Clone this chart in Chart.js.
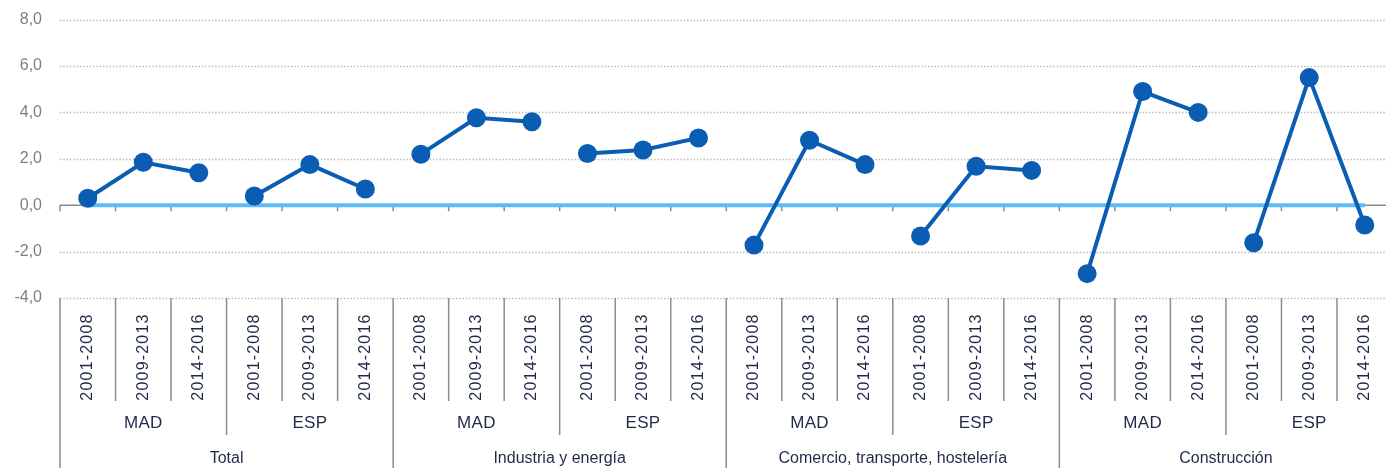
<!DOCTYPE html>
<html>
<head>
<meta charset="utf-8">
<script src="https://cdn.jsdelivr.net/npm/chart.js@4"></script>
<style>
  html, body { margin: 0; padding: 0; background: #fff; overflow: hidden; }
  #wrap { width: 1402px; height: 468px; position: relative; }
</style>
</head>
<body>
<div id="wrap"><canvas id="lineChart"></canvas></div>
<script>
const periods = ['2001-2008', '2009-2013', '2014-2016'];
const regions = ['MAD', 'ESP'];
const sectors = ['Total', 'Industria y energía', 'Comercio, transporte, hostelería', 'Construcción'];

// one value per period, grouped MAD/ESP within each sector
const totalValues      = [0.3, 1.85, 1.4,   0.4, 1.75, 0.7];
const industriaValues  = [2.2, 3.77, 3.6,   2.23, 2.38, 2.9];
const comercioValues   = [-1.72, 2.8, 1.75, -1.33, 1.68, 1.5];
const construccValues  = [-2.95, 4.9, 4.0,  -1.62, 5.5, -0.85];
const zeroLine = [0, 0, 0, 0, 0, 0, 0, 0, 0, 0, 0, 0, 0, 0, 0, 0, 0, 0, 0, 0, 0, 0, 0, 0];

const yTicks = [-4, -2, 0, 2, 4, 6, 8];

const values = [...totalValues, ...industriaValues, ...comercioValues, ...construccValues];
const labels = [];
sectors.forEach(s => regions.forEach(r => periods.forEach(p => labels.push(p))));

const DARK = '#0B5DB3';
const LIGHT = '#5CBDF6';
const NAVY = '#1E2A46';
const FONT = "'Liberation Sans', Arial, sans-serif";

const axisPlugin = {
    id: 'multiAxis',
    beforeDatasetsDraw(chart) {
        const { ctx, chartArea: a, scales: { y } } = chart;
        ctx.save();
        // dotted grid
        ctx.strokeStyle = '#bdbdbd';
        ctx.lineWidth = 1.3;
        ctx.setLineDash([1.5, 1.8]);
        yTicks.filter(v => v !== 0).forEach(v => {
            const py = Math.round(y.getPixelForValue(v)) + 0.5;
            ctx.beginPath();
            ctx.moveTo(a.left, py);
            ctx.lineTo(a.right, py);
            ctx.stroke();
        });
        ctx.setLineDash([]);
        // zero axis line with ticks
        const y0 = y.getPixelForValue(0);
        const n = labels.length;
        const bw = (a.right - a.left) / n;
        ctx.strokeStyle = '#8a8a8a';
        ctx.lineWidth = 1.5;
        ctx.beginPath();
        ctx.moveTo(a.left, y0);
        ctx.lineTo(a.right, y0);
        ctx.stroke();
        for (let i = 0; i <= n; i++) {
            const px = a.left + i * bw;
            ctx.beginPath();
            ctx.moveTo(px, y0);
            ctx.lineTo(px, y0 + 6);
            ctx.stroke();
        }
        ctx.restore();
    },
    afterDraw(chart) {
        const { ctx, chartArea: a } = chart;
        const n = labels.length;
        const bw = (a.right - a.left) / n;
        const bottom = a.bottom;
        ctx.save();
        ctx.strokeStyle = '#8c8c8c';
        ctx.lineWidth = 1.5;
        for (let i = 0; i <= n; i++) {
            const px = a.left + i * bw;
            let end = 401;
            if (i % 6 === 0) end = 468;
            else if (i % 3 === 0) end = 435;
            ctx.beginPath();
            ctx.moveTo(px, bottom);
            ctx.lineTo(px, end);
            ctx.stroke();
        }
        ctx.fillStyle = NAVY;
        // rotated period labels
        ctx.font = '16px ' + FONT;
        ctx.letterSpacing = '1.2px';
        ctx.textAlign = 'center';
        ctx.textBaseline = 'middle';
        labels.forEach((lab, i) => {
            const cx = a.left + (i + 0.5) * bw;
            ctx.save();
            ctx.translate(cx, 357);
            ctx.rotate(-Math.PI / 2);
            ctx.fillText(lab, 0, 0);
            ctx.restore();
        });
        // region labels
        ctx.font = '17px ' + FONT;
        ctx.letterSpacing = '0.3px';
        for (let g = 0; g < n / 3; g++) {
            const cx = a.left + (g * 3 + 1.5) * bw;
            ctx.fillText(regions[g % 2], cx, 423);
        }
        // sector labels
        ctx.font = '16px ' + FONT;
        ctx.letterSpacing = '0px';
        sectors.forEach((s, k) => {
            const cx = a.left + (k * 6 + 3) * bw;
            ctx.fillText(s, cx, 459);
        });
        ctx.restore();
    }
};

new Chart(document.getElementById('lineChart'), {
    type: 'line',
    data: {
        labels: labels,
        datasets: [{
            data: values,
            borderColor: DARK,
            backgroundColor: DARK,
            borderWidth: 4,
            pointRadius: 9.5,
            pointHoverRadius: 9.5,
            pointBorderWidth: 0,
            tension: 0,
            order: 0,
            segment: {
                borderColor: ctx => (ctx.p0DataIndex % 3 === 2 ? 'rgba(0,0,0,0)' : DARK)
            }
        }, {
            data: zeroLine,
            borderColor: LIGHT,
            borderWidth: 4,
            pointRadius: 0,
            tension: 0,
            order: 1
        }]
    },
    options: {
        responsive: true,
        maintainAspectRatio: false,
        animation: false,
        layout: { padding: { top: 7, bottom: 170, right: 0, left: 0 } },
        plugins: { legend: { display: false }, tooltip: { enabled: false } },
        scales: {
            x: { type: 'category', display: false, offset: true },
            y: {
                min: -4, max: 8,
                afterFit: s => { s.width = 60; },
                afterBuildTicks: s => { s.ticks = yTicks.map(v => ({ value: v })); },
                grid: { display: false },
                border: { display: false },
                ticks: {
                    color: '#7f7f7f',
                    padding: 10,
                    font: { family: FONT, size: 16 },
                    callback: v => v.toFixed(1).replace('.', ',')
                }
            }
        }
    },
    plugins: [axisPlugin]
});
</script>
</body>
</html>
